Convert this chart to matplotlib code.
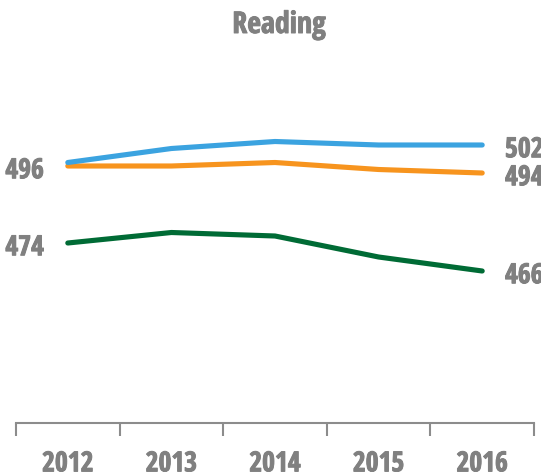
import matplotlib
matplotlib.use('Agg')
import matplotlib.pyplot as plt
import matplotlib.patheffects as pe
from matplotlib import font_manager

# Data
years = ['2012', '2013', '2014', '2015', '2016']
blue_vals = [497, 501, 503, 502, 502]
orange_vals = [496, 496, 497, 495, 494]
green_vals = [474, 477, 476, 470, 466]
left_labels = [496, 474]
right_labels = [502, 494, 466]

# pick a condensed bold face if one is installed
names = set(f.name for f in font_manager.fontManager.ttflist)
family = 'DejaVu Sans'
stretch = 'normal'
for cand in ['Open Sans Condensed', 'Roboto Condensed', 'Liberation Sans Narrow', 'DejaVu Sans Condensed']:
    if cand in names:
        family = cand
        break
else:
    for f in font_manager.fontManager.ttflist:
        if f.name in ('Open Sans', 'Roboto', 'DejaVu Sans') and f.stretch not in ('normal', 500):
            family = f.name
            stretch = 'condensed'
            break
plt.rcParams['font.family'] = family
plt.rcParams['font.stretch'] = stretch

gray = '#808080'
thick = [pe.withStroke(linewidth=0.7, foreground=gray)]
W, H = 541, 472
fig = plt.figure(figsize=(W / 100, H / 100), dpi=100)
# axes placed in pixel units
x0, x1, ytop, ybot = 16, 534, 60, 423
ax = fig.add_axes([x0 / W, (H - ybot) / H, (x1 - x0) / W, (ybot - ytop) / H])

px_per_unit = 3.5
ymin = 474 - (ybot - 243) / px_per_unit
ymax = ymin + (ybot - ytop) / px_per_unit
ax.set_ylim(ymin, ymax)
ax.set_xlim(-0.5, 4.5)

x = range(len(years))
ax.plot(x, orange_vals, color='#F7941E', lw=3.7, solid_capstyle='round', solid_joinstyle='round')
ax.plot(x, blue_vals, color='#3BA3E0', lw=3.7, solid_capstyle='round', solid_joinstyle='round')
ax.plot(x, green_vals, color='#006B35', lw=3.7, solid_capstyle='round', solid_joinstyle='round')

for s in ['top', 'left', 'right']:
    ax.spines[s].set_visible(False)
ax.spines['bottom'].set_color('#8c8c8c')
ax.spines['bottom'].set_linewidth(1.5)
ax.set_yticks([])
ax.set_xticks(list(x))
ax.set_xticklabels(years)
ax.tick_params(axis='x', which='major', length=0, pad=19, labelsize=20, labelcolor=gray)
ax.set_xticks([i - 0.5 for i in range(len(years) + 1)], minor=True)
ax.tick_params(axis='x', which='minor', length=9, width=1.5, color='#8c8c8c')
for lab in ax.get_xticklabels():
    lab.set_fontweight('bold')
    lab.set_path_effects(thick)

off = 3.5  # label baseline sits a bit below the line value
for val in left_labels:
    ax.text(-0.23, val - off, str(val), ha='right', va='baseline', fontsize=20,
            fontweight='bold', color=gray, clip_on=False, path_effects=thick)
for val in right_labels:
    ax.text(4.22, val - off, str(val), ha='left', va='baseline', fontsize=20,
            fontweight='bold', color=gray, clip_on=False, path_effects=thick)

fig.text(279 / W, 1 - 33 / H, 'Reading', ha='center', va='baseline', fontsize=21.5,
         fontweight='bold', color=gray, path_effects=thick)

fig.savefig('out.png', dpi=100, facecolor='white')
plt.close()
